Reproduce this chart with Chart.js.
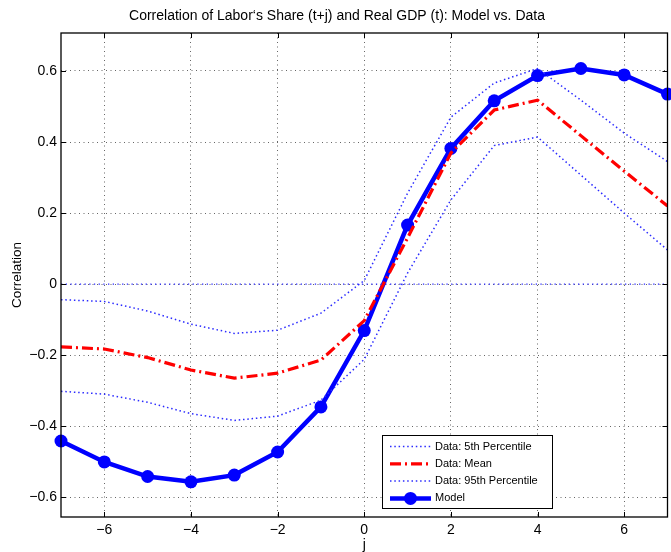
<!DOCTYPE html>
<html>
<head>
<meta charset="utf-8">
<script src="https://cdn.jsdelivr.net/npm/chart.js@4.4.1/dist/chart.umd.min.js"></script>
<style>
  html, body { margin: 0; padding: 0; background: #fff; overflow: hidden; }
  #wrap { width: 674px; height: 552px; }
</style>
</head>
<body>
<div id="wrap"><canvas id="c" width="674" height="552"></canvas></div>
<script>
// ---- data ----
const lags = [-7, -6, -5, -4, -3, -2, -1, 0, 1, 2, 3, 4, 5, 6, 7];
const modelCorr = [-0.442, -0.501, -0.542, -0.557, -0.538, -0.473, -0.346, -0.131, 0.166, 0.382, 0.516, 0.587, 0.607, 0.589, 0.535];
const dataMean  = [-0.177, -0.183, -0.207, -0.242, -0.265, -0.251, -0.214, -0.103, 0.130, 0.369, 0.490, 0.518, 0.418, 0.318, 0.220];
const data5th   = [-0.302, -0.310, -0.333, -0.365, -0.384, -0.372, -0.327, -0.212, 0.031, 0.237, 0.390, 0.414, 0.307, 0.200, 0.096];
const data95th  = [-0.044, -0.049, -0.076, -0.113, -0.139, -0.130, -0.082, 0.010, 0.256, 0.470, 0.566, 0.607, 0.518, 0.425, 0.345];
const zeroLine  = [0, 0];
const zeroLags  = [-7, 7];
const xTicks = [-6, -4, -2, 0, 2, 4, 6];
const yTicks = [-0.6, -0.4, -0.2, 0, 0.2, 0.4, 0.6];
const titleText = "Correlation of Labor\u2018s Share (t+j) and Real GDP (t): Model vs. Data";
const legendLabels = ["Data: 5th Percentile", "Data: Mean", "Data: 95th Percentile", "Model"];

const pts = (xs, ys) => xs.map((x, i) => ({ x: x, y: ys[i] }));
const fmt = v => (v < 0 ? "\u2212" : "") + String(Math.round(Math.abs(v) * 10) / 10);

const FONT = "'Liberation Sans', Arial, Helvetica, sans-serif";
Chart.defaults.font.family = FONT;
Chart.defaults.color = "#000";

const dotted = { borderColor: "#2b2bff", borderWidth: 1.5, borderDash: [1.5, 2.8], pointRadius: 0, fill: false, tension: 0 };

const innerTicks = {
  id: "innerTicks",
  afterDraw(chart) {
    const ctx = chart.ctx, a = chart.chartArea;
    const xs = chart.scales.x, ys = chart.scales.y;
    ctx.save();
    ctx.strokeStyle = "#000";
    ctx.lineWidth = 1;
    ctx.beginPath();
    xTicks.forEach(v => {
      const px = Math.round(xs.getPixelForValue(v)) + 0.5;
      ctx.moveTo(px, a.bottom); ctx.lineTo(px, a.bottom - 5);
      ctx.moveTo(px, a.top); ctx.lineTo(px, a.top + 5);
    });
    yTicks.forEach(v => {
      const py = Math.round(ys.getPixelForValue(v)) + 0.5;
      ctx.moveTo(a.left, py); ctx.lineTo(a.left + 5, py);
      ctx.moveTo(a.right, py); ctx.lineTo(a.right - 5, py);
    });
    ctx.stroke();
    ctx.lineWidth = 1.3;
    ctx.strokeRect(a.left, a.top, a.right - a.left, a.bottom - a.top);
    ctx.restore();
  }
};

const boxLegend = {
  id: "boxLegend",
  afterDraw(chart) {
    const ctx = chart.ctx, a = chart.chartArea;
    const x0 = a.left + 321, y0 = a.bottom - 82, w = 170, h = 73;
    ctx.save();
    ctx.fillStyle = "#fff";
    ctx.fillRect(x0, y0, w, h);
    ctx.strokeStyle = "#000";
    ctx.lineWidth = 1;
    ctx.strokeRect(x0 + 0.5, y0 + 0.5, w, h);
    const order = [1, 2, 3, 4];
    ctx.font = "11px " + FONT;
    ctx.textBaseline = "middle";
    order.forEach((di, r) => {
      const ds = chart.data.datasets[di];
      const cy = y0 + 11.5 + r * 17.3;
      ctx.save();
      ctx.strokeStyle = ds.borderColor;
      ctx.lineWidth = ds.borderWidth;
      ctx.setLineDash(ds.borderDash || []);
      ctx.beginPath();
      ctx.moveTo(x0 + 8, cy); ctx.lineTo(x0 + 49, cy);
      ctx.stroke();
      ctx.restore();
      if (ds.pointRadius > 0) {
        ctx.fillStyle = ds.pointBackgroundColor;
        ctx.beginPath();
        ctx.arc(x0 + 28.5, cy, ds.pointRadius, 0, Math.PI * 2);
        ctx.fill();
      }
      ctx.fillStyle = "#000";
      ctx.fillText(legendLabels[r], x0 + 53, cy);
    });
    ctx.restore();
  }
};

new Chart(document.getElementById("c"), {
  type: "line",
  data: {
    datasets: [
      Object.assign({ label: "zero", data: pts(zeroLags, zeroLine) }, dotted, { borderWidth: 1.2, borderDash: [1.3, 3.4] }),
      Object.assign({ label: legendLabels[0], data: pts(lags, data5th) }, dotted),
      { label: legendLabels[1], data: pts(lags, dataMean), borderColor: "#ff0000", borderWidth: 3.2, borderDash: [11, 4, 2, 4], pointRadius: 0, fill: false, tension: 0 },
      Object.assign({ label: legendLabels[2], data: pts(lags, data95th) }, dotted),
      { label: legendLabels[3], data: pts(lags, modelCorr), borderColor: "#0000ff", borderWidth: 4.5, pointRadius: 6.5, pointBackgroundColor: "#0000ff", pointBorderColor: "#0000ff", pointBorderWidth: 0, fill: false, tension: 0, clip: false }
    ]
  },
  options: {
    responsive: false,
    animation: false,
    devicePixelRatio: 1,
    layout: { padding: { left: 0, right: 0, top: 0, bottom: 0 } },
    plugins: {
      legend: { display: false },
      tooltip: { enabled: false },
      title: {
        display: true,
        text: titleText,
        font: { size: 14, weight: "normal", family: FONT, lineHeight: 1.2 },
        color: "#000",
        padding: { top: 8, bottom: 8.2 }
      }
    },
    scales: {
      x: {
        type: "linear",
        min: -7, max: 7,
        afterBuildTicks: s => { s.ticks = xTicks.map(v => ({ value: v })); },
        afterFit: s => { s.height = 35; },
        grid: { color: "#666", lineWidth: 1, drawTicks: false },
        border: { display: false, dash: [1, 3.5] },
        ticks: { callback: v => fmt(v), font: { size: 14 }, padding: 5, maxRotation: 0 },
        title: { display: true, text: "j", font: { size: 14, lineHeight: 1.0 }, padding: { top: 0, bottom: 0 } }
      },
      y: {
        type: "linear",
        min: -0.656, max: 0.707,
        afterBuildTicks: s => { s.ticks = yTicks.map(v => ({ value: v })); },
        afterFit: s => { s.width = 61; },
        grid: { color: "#666", lineWidth: 1, drawTicks: false },
        border: { display: false, dash: [1, 3.5] },
        ticks: { callback: v => fmt(v), font: { size: 14 }, padding: 4 },
        title: { display: true, text: "Correlation", font: { size: 13.5 }, padding: { top: 9, bottom: 0 } }
      }
    }
  },
  plugins: [innerTicks, boxLegend]
});
</script>
</body>
</html>
